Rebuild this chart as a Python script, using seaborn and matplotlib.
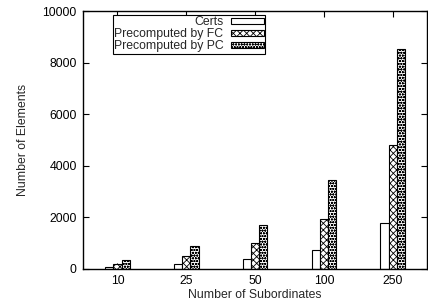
import seaborn as sns
import matplotlib.pyplot as plt
import pandas as pd
from matplotlib.patches import Patch

# data
subordinates = ["10", "25", "50", "100", "250"]
certs = [70, 180, 370, 730, 1790]
by_fc = [200, 490, 990, 1930, 4800]
by_pc = [360, 870, 1720, 3450, 8520]
series = ["Certs", "Precomputed by FC", "Precomputed by PC"]
hatches = ["", "xxxxx", "oooooo"]

df = pd.DataFrame({
    "subs": subordinates * 3,
    "method": [s for s in series for _ in subordinates],
    "count": certs + by_fc + by_pc,
})

sns.set_theme(style="ticks")
plt.rcParams['font.family'] = ['Liberation Sans', 'DejaVu Sans']
plt.rcParams['hatch.linewidth'] = 0.6

fig = plt.figure(figsize=(4.28, 3.08), dpi=100)
ax = fig.add_axes([0.194, 0.127, 0.804, 0.837])

sns.barplot(data=df, x="subs", y="count", hue="method", order=subordinates,
            hue_order=series, palette=["white"] * 3, saturation=1,
            edgecolor="black", linewidth=0.8, width=0.36, gap=0,
            errorbar=None, legend=False, ax=ax)

for cont, h in zip(ax.containers, hatches):
    for bar in cont:
        bar.set_hatch(h)

ax.set_xlim(-0.5, 4.5)
ax.set_ylim(0, 10000)
ax.set_yticks(range(0, 10001, 2000))
ax.set_xlabel("Number of Subordinates", fontsize=8.8, labelpad=1)
ax.set_ylabel("Number of Elements", fontsize=8.8, labelpad=10)
ax.tick_params(direction="in", top=True, right=True, length=4, width=0.8,
               labelsize=8.8, pad=4.5, colors="black")
for sp in ax.spines.values():
    sp.set_linewidth(1.0)
    sp.set_color("black")

handles = [Patch(facecolor="white", edgecolor="black", hatch=h, linewidth=0.8) for h in hatches]
leg = ax.legend(handles, series, loc="upper right", bbox_to_anchor=(0.529, 0.984),
                borderaxespad=0, markerfirst=False, fancybox=False, framealpha=1,
                edgecolor="black", fontsize=8.8, handlelength=2.7, handleheight=0.4,
                labelspacing=0.0, handletextpad=0.6, borderpad=0.1)
leg.get_frame().set_linewidth(0.8)

fig.savefig("out.png", dpi=100)
